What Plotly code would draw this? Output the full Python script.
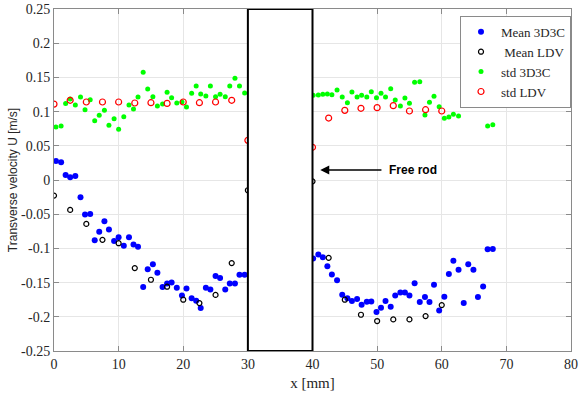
import plotly.graph_objects as go

# ---------------- data ----------------
x_3d3c = [0.3, 1.1, 1.8, 2.5, 3.3, 4.1, 4.8, 5.6, 6.3, 7.0, 7.8, 8.5, 9.3, 10.0, 10.8, 11.6,
          12.3, 13.0, 13.8, 14.5, 15.3, 16.0, 16.8, 17.5, 18.2, 19.0, 19.8, 20.5, 21.3, 22.0,
          22.7, 23.5, 24.2, 25.0, 25.7, 26.5, 27.2, 28.0, 28.7, 29.5,
          40.1, 40.9, 41.6, 42.3, 43.0, 43.8, 44.6, 45.4, 46.1, 46.9, 47.6, 48.4, 49.1, 49.9,
          50.6, 51.3, 52.1, 52.8, 53.6, 54.3, 55.0, 55.8, 56.6, 57.4, 58.1, 58.8, 59.6, 60.4,
          61.1, 61.8, 62.6, 63.4, 64.1, 64.9, 65.6, 66.4, 67.1, 67.9]

mean_3d3c = [0.0277, 0.026, 0.0073, 0.0039, 0.0058, -0.0253, -0.0506, -0.0496, -0.088, -0.0758,
             -0.0603, -0.0724, -0.089, -0.0836, -0.0963, -0.0836, -0.0943, -0.0977, -0.1565, -0.1303,
             -0.123, -0.1356, -0.1565, -0.1512, -0.1497, -0.1575, -0.169, -0.1585, -0.173, -0.1765,
             -0.187, -0.1575, -0.160, -0.1405, -0.1434, -0.160, -0.1512, -0.1512, -0.1385, -0.1385,
             -0.1148, -0.109, -0.1128, -0.126, -0.138, -0.1464, -0.1678, -0.1727, -0.177, -0.174,
             -0.1824, -0.178, -0.1775, -0.1931, -0.1868, -0.177, -0.1853, -0.1688, -0.1644, -0.1644,
             -0.1688, -0.1508, -0.1785, -0.1712, -0.1785, -0.1532, -0.1907, -0.1707, -0.1376, -0.1182,
             -0.1313, -0.180, -0.123, -0.1313, -0.1712, -0.1556, -0.1012, -0.1007]

std_3d3c = [0.0775, 0.079, 0.112, 0.1184, 0.1096, 0.1213, 0.1028, 0.1174, 0.0867, 0.0945,
            0.1018, 0.0799, 0.0897, 0.0741, 0.0926, 0.1096, 0.1038, 0.1213, 0.1574, 0.133,
            0.1218, 0.1082, 0.111, 0.1282, 0.1204, 0.1126, 0.114, 0.1067, 0.1267, 0.1374,
            0.1257, 0.1228, 0.1374, 0.1218, 0.1252, 0.1218, 0.1374, 0.1486, 0.1374, 0.1272,
            0.1238, 0.1243, 0.1252, 0.1257, 0.1248, 0.1316, 0.1213, 0.113, 0.1287, 0.1213,
            0.1238, 0.1213, 0.1291, 0.1204, 0.1267, 0.1213, 0.1335, 0.117, 0.1082, 0.1199,
            0.1121, 0.1428, 0.1438, 0.095, 0.1135, 0.1223, 0.1072, 0.0902, 0.0921, 0.096,
            0.0936, 0.1165, 0.1155, 0.133, 0.1135, 0.1243, 0.079, 0.0809]

x_ldv = [0, 2.5, 5, 7.5, 10, 12.5, 15, 17.5, 20, 22.5, 25, 27.5, 30,
         40, 42.5, 45, 47.5, 50, 52.5, 55, 57.5, 60]

mean_ldv = [-0.0228, -0.0437, -0.0642, -0.0875, -0.0924, -0.1288, -0.1458, -0.156, -0.175, -0.180,
            -0.168, -0.1215, -0.015,
            -0.002, -0.1138, -0.175, -0.197, -0.2062, -0.2038, -0.2038, -0.199, -0.1829]

std_ldv = [0.111, 0.1165, 0.114, 0.114, 0.114, 0.1126, 0.113, 0.112, 0.114, 0.113, 0.114, 0.1165, 0.058,
           0.0478, 0.0906, 0.1018, 0.1048, 0.1058, 0.1087, 0.1009, 0.1028, 0.1009]

rod_x = [30, 40]
rod_y = [-0.25, 0.25]

x_ticks = [0, 10, 20, 30, 40, 50, 60, 70, 80]
x_ticklabels = ["0", "10", "20", "30", "40", "50", "60", "70", "80"]
y_ticks = [-0.25, -0.2, -0.15, -0.1, -0.05, 0, 0.05, 0.1, 0.15, 0.2, 0.25]
y_ticklabels = ["-0.25", "-0.2", "-0.15", "-0.1", "-0.05", "0", "0.05", "0.1", "0.15", "0.2", "0.25"]

annot_head = (41.2, 0.0146)
annot_tail_x = 50.9
annot_text = "Free rod"

# ---------------- figure ----------------
serif = "Liberation Serif"
sans = "Liberation Sans"

fig = go.Figure()
fig.add_trace(go.Scatter(x=x_3d3c, y=mean_3d3c, mode="markers", name="Mean 3D3C",
                         marker=dict(color="#0000FF", size=6, line=dict(width=0))))
fig.add_trace(go.Scatter(x=x_ldv, y=mean_ldv, mode="markers", name=" Mean LDV",
                         marker=dict(symbol="circle-open", color="black", size=5, line=dict(width=1.2))))
fig.add_trace(go.Scatter(x=x_3d3c, y=std_3d3c, mode="markers", name="std 3D3C",
                         marker=dict(color="#00FF00", size=5, line=dict(width=0))))
fig.add_trace(go.Scatter(x=x_ldv, y=std_ldv, mode="markers", name="std LDV",
                         marker=dict(symbol="circle-open", color="#FF0000", size=6, line=dict(width=1.2))))

fig.add_shape(type="rect", xref="x", yref="y", x0=rod_x[0], x1=rod_x[1], y0=rod_y[0], y1=rod_y[1],
              fillcolor="white", line=dict(color="black", width=2), layer="above")

fig.add_annotation(x=annot_head[0], y=annot_head[1], ax=annot_tail_x, ay=annot_head[1],
                   xref="x", yref="y", axref="x", ayref="y", text="", showarrow=True,
                   arrowhead=2, arrowsize=1.2, arrowwidth=1.5, arrowcolor="black", standoff=0)
fig.add_annotation(x=annot_tail_x, y=annot_head[1], xref="x", yref="y", text="<b>" + annot_text + "</b>",
                   showarrow=False, xanchor="left", yanchor="middle", xshift=4,
                   font=dict(family=sans, size=12, color="black"))

axis_common = dict(showline=True, linecolor="#8a8a8a", linewidth=1, mirror="ticks",
                   ticks="inside", ticklen=5, tickcolor="#8a8a8a", automargin=False,
                   showgrid=True, gridcolor="#e6e6e6", gridwidth=1, zeroline=False,
                   tickfont=dict(family=serif, size=14, color="#262626"))

fig.update_xaxes(range=[0, 80], tickvals=x_ticks, ticktext=x_ticklabels,
                 title=dict(text="x [mm]", font=dict(family=serif, size=15, color="#262626"), standoff=6),
                 **axis_common)
fig.update_yaxes(range=[-0.25, 0.25], tickvals=y_ticks, ticktext=y_ticklabels,
                 title=dict(text="Transverse velocity U [m/s]", font=dict(family=sans, size=12, color="#262626"),
                            standoff=0),
                 **axis_common)

fig.update_layout(
    width=579, height=396,
    margin=dict(l=54, r=8, t=9, b=45, autoexpand=False),
    plot_bgcolor="white", paper_bgcolor="white",
    showlegend=True,
    legend=dict(x=1, y=0.98, xanchor="right", yanchor="top",
                bgcolor="white", bordercolor="#8a8a8a", borderwidth=1,
                font=dict(family=serif, size=13, color="#262626"),
                tracegroupgap=0, itemwidth=30),
)

fig.write_html("out.html", config={"displayModeBar": False},
               post_script="document.body.style.margin='0';document.body.style.padding='0';")
